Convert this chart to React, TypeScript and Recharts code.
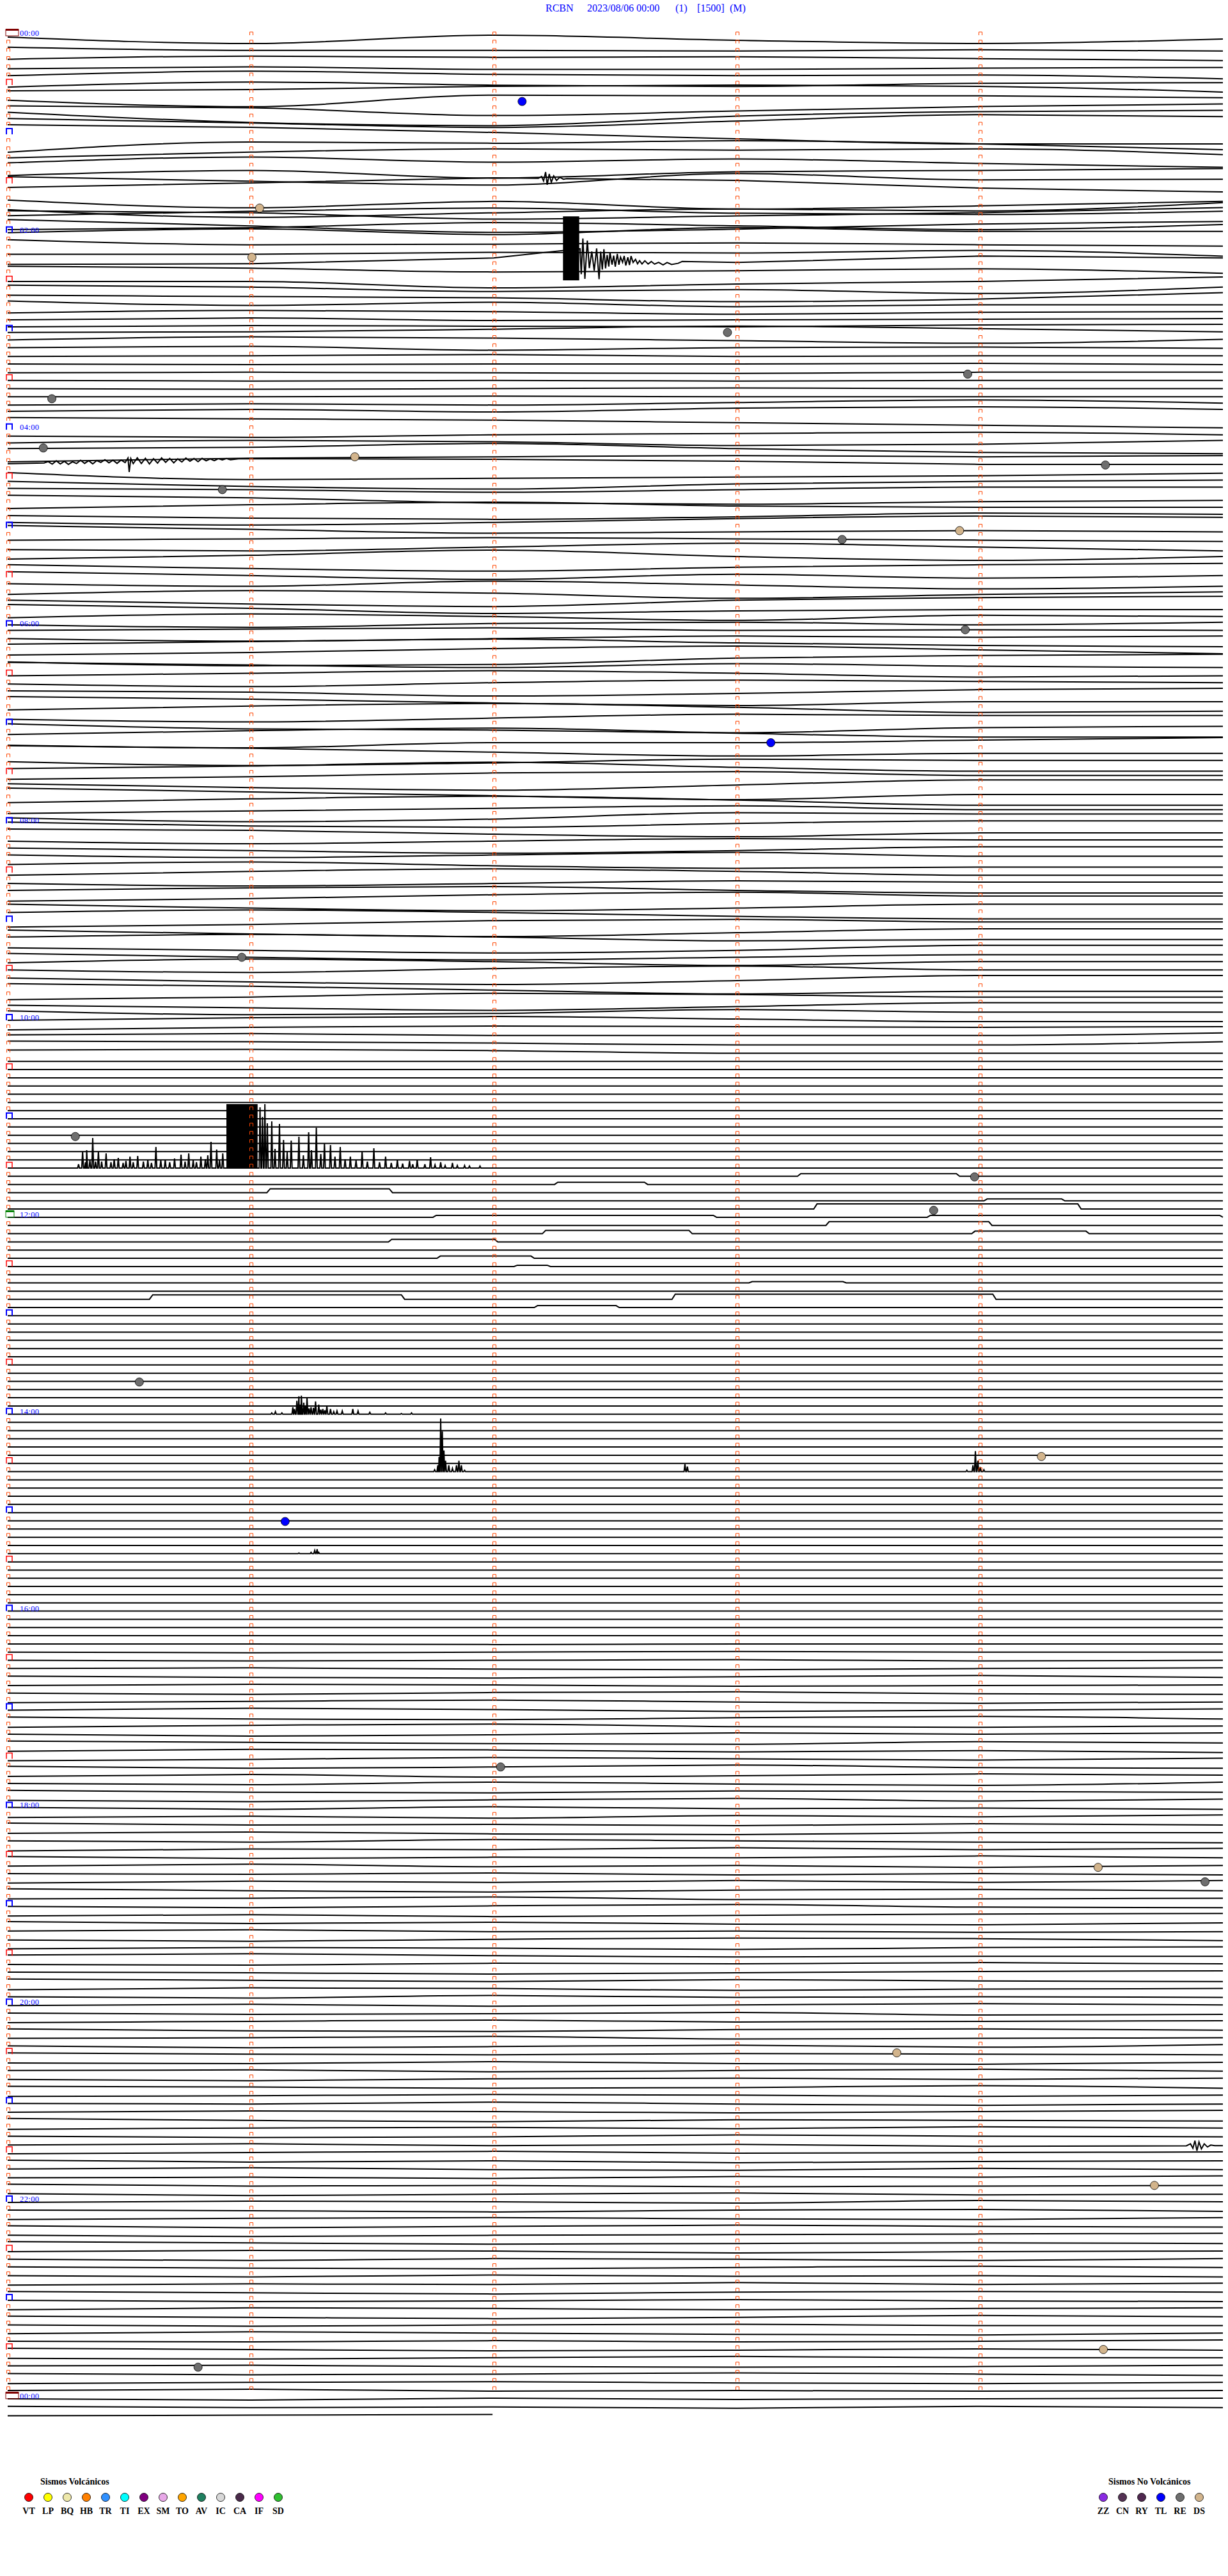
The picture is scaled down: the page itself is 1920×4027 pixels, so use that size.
import React from 'react';
import { ComposedChart, Line, Scatter, XAxis, YAxis, ReferenceArea } from 'recharts';

// ---------- geometry of the helicorder page ----------
const W = 1920;
const H = 4027;
const ROW_PX = 12.826; // vertical spacing of the 5-minute lines
const TOP_PX = 56; // baseline of the first line
const SEC_PX = 6.3333; // 380 px per minute
const LEFT_PX = 12;
const T0 = -LEFT_PX / SEC_PX;
const T1 = T0 + W / SEC_PX;
const R0 = -TOP_PX / ROW_PX;
const R1 = R0 + H / ROW_PX;
const ROWS = 291;
const LAST_ROW = 290;
const LAST_END = 119.7;

// ---------- title / labels ----------
const titleParts = ['RCBN', '2023/08/06 00:00', '(1)', '[1500]', '(M)'];
const titleX = [853, 918, 1056, 1090, 1141];
const hourLabels = ['00:00', '02:00', '04:00', '06:00', '08:00', '10:00', '12:00', '14:00', '16:00', '18:00', '20:00', '22:00', '00:00'];
const minuteTicks = [0, 60, 120, 180, 240];

// ---------- per-minute drift of the trace (px, + = down), one array per hour ----------
const h00 = [
  2, 12, -1, 7, 12, 5, 10, 10, 11, 9, 11, 6, 8, 7, 10, 13, 10, 14, 14, 12,
  11, 4, 9, 11, 10, 16, 8, 13, 15, 10, 9, 7, 2, 0, 2, 11, 21, 3, 4, 4,
  7, 10, 22, 15, 8, 4, 20, 25, 10, 3, 1, 8, 15, 5, -5, -2, 2, 10, 20, 28,
];
const h01 = [
  28, 12, 14, 10, 15, 24, 15, 10, 12, 10, 19, 10, 18, 13, 20, 26, 18, 30, 20, 18,
  15, 22, 28, 10, 20, 19, 12, 4, 8, 20, 26, 38, 28, 40, 35, 28, 40, 33, 27, 30,
  17, 20, 30, 25, 20, 12, 5, 0, 8, 10, 5, 15, 25, 20, 12, 8, 5, -3, 2, 8,
];
const h02 = [
  0, -6, 3, -8, -2, -2, 6, 5, 3, 6, 8, 8, 5, 6, 2, 11, 10, 1, 8, -2,
  1, 4, 10, 8, 5, 12, 12, 22, 16, 12, 5, 8, 15, 12, 18, 8, 10, 12, 18, 14,
  4, 11, 6, 13, 10, 10, 6, 8, 12, 9, 8, 5, 9, 8, 7, 6, 4, 5, 6, 3,
];
const h03 = [
  2, 1, -3, -8, -4, 1, -4, -2, 2, 6, 0, -2, 4, 0, -1, 1, 0, -2, 1, 0,
  0, 1, 0, 0, -1, 1, 0, 1, 2, 0, 0, 1, 0, 1, 0, 0, 1, 0, -1, 0,
  0, 0, -1, 0, 0, 0, -2, 0, -4, -8, -3, -6, -2, -8, -10, -6, -4, -2, 2, 6,
];
const h04 = [
  10, 12, 8, 6, 4, 8, 4, 6, 12, 10, 4, 2, -4, 4, 10, 12, 6, 4, 2, 4,
  2, -6, -5, -2, 3, 3, 14, 12, 10, 8, 4, 12, 16, 8, 4, 2, 4, 8, 4, 0,
  0, 4, 12, 14, 10, 8, 2, -2, 4, 6, 6, 10, 12, 8, 2, 4, 8, 4, -2, -6,
];
const h05 = [
  -4, 2, 8, 6, 4, 6, 4, 2, 4, 6, 8, 10, 4, -2, 4, 10, 4, -4, 6, 12,
  6, 12, 16, 10, 6, 4, 10, 16, 8, 14, 10, 14, 6, 12, 18, 14, 8, 12, 20, 14,
  10, 16, 20, 10, 6, 4, 10, 18, 14, 12, 12, 6, 10, 16, 8, 10, 14, 8, 6, 10,
];
const h06 = [
  6, 4, 2, 6, 5, 6, 10, 6, 2, 4, 2, -2, -6, 0, 4, 6, 2, -4, -8, -2,
  4, 10, 8, -2, -6, -8, -4, 0, -6, -2, 0, -4, -8, -4, 2, 0, 4, -2, -6, -4,
  -2, 0, 6, 2, -4, -6, -2, 4, 8, 2, 2, -4, -8, -2, 6, 4, 8, 2, -4, -2,
];
const h07 = [
  -2, 6, 8, 12, 4, 2, -4, -8, 0, 6, 6, 10, 2, 2, -2, -6, -2, 4, 10, 6,
  6, 12, 8, 2, 4, 4, 0, -6, 2, 8, 8, 4, -2, -4, 2, 2, 8, 12, 4, -4,
  -4, 2, 8, 14, 6, 6, 0, -4, 2, 10, 10, 6, 2, -2, 4, 4, 10, 6, -4, -2,
];
const h08 = [
  -2, 4, 6, 0, -4, -4, -2, 4, 8, 2, 2, 6, 2, -2, 0, 0, 4, 8, 4, -2,
  -2, 2, -2, -6, 0, 0, -4, 2, 6, 4, 4, -2, -6, -2, 4, 4, 8, 4, 0, 2,
  2, -2, -4, 2, 6, 6, 2, -4, -8, -2, -2, 4, 8, 4, -2, -2, -6, -2, 4, 8,
];
const h09 = [
  8, 4, -2, -4, 0, 0, 6, 10, 4, -2, -2, -6, -2, 4, 2, 2, 6, 10, 6, -2,
  -2, 4, 8, 4, 0, 0, -6, -2, 4, -2, -2, 2, -4, -8, -2, -2, 4, 8, 2, -6,
  -6, -2, 4, 10, 6, 6, 2, -4, -2, 2, 2, 6, 10, 4, -2, -2, 4, 2, -4, 0,
];
const h10 = [
  0, -4, -6, -2, 2, 2, -2, -4, -3, -2, -3, -5, -2, -2, -2, -6, -5, -3, 0, 0,
  -5, -6, -4, 0, 0, 0, 0, 0, 0, 0, 0, 0, 0, 0, 0, 0, 0, 0, 0, 0,
  0, 0, 0, 0, 0, 0, 0, 0, 0, 0, 0, 0, 0, 0, 0, 0, 0, 0, 0, 0,
];
const h11 = [
  0, 0, 0, 0, 0, 0, 0, 0, 0, 0, 0, 0, 0, 0, 0, 0, 0, 0, 0, 0,
  0, 0, 0, 0, 0, 0, 0, 0, 0, 0, 0, 0, 0, 0, 0, 0, 0, 0, 0, 0,
  0, 0, 0, 0, 0, 0, 0, 0, 0, 0, 0, 0, 0, 0, 0, 0, 0, 0, 0, 0,
];
const h12 = [
  0, 0, 0, 0, 0, 0, 0, 0, 0, 0, 0, 0, 0, 0, 0, 0, 0, 0, 0, 0,
  0, 0, 0, 0, 0, 0, 0, 0, 0, 0, 0, 0, 0, 0, 0, 0, 0, 0, 0, 0,
  0, 0, 0, 0, 0, 0, 0, 0, 0, 0, 0, 0, 0, 0, 0, 0, 0, 0, 0, 0,
];
const h13 = [
  0, 0, 0, 0, 0, 0, 0, 0, 0, 0, 0, 0, 0, 0, 0, 0, 0, 0, 0, 0,
  0, 0, 0, 0, 0, 0, 0, 0, 0, 0, 0, 0, 0, 0, 0, 0, 0, 0, 0, 0,
  0, 0, 0, 0, 0, 0, 0, 0, 0, 0, 0, 0, 0, 0, 0, 0, 0, 0, 0, 0,
];
const h14 = [
  0, 0, 0, 0, 0, 0, 0, 0, 0, 0, 0, 0, 0, 0, 0, 0, 0, 0, 0, 0,
  0, 0, 0, 0, 0, 0, 0, 0, 0, 0, 0, 0, 0, 0, 0, 0, 0, 0, 0, 0,
  0, 0, 0, 0, 0, 0, 0, 0, 0, 0, 0, 0, 0, 0, 0, 0, 0, 0, 0, 0,
];
const h15 = [
  0, 0, 0, 0, 0, 0, 0, 0, 0, 0, 0, 0, 0, 0, 0, 0, 0, 0, 0, 0,
  0, 0, 0, 0, 0, 0, 0, 0, 0, 0, 0, 0, 0, 0, 0, 0, 0, 0, 0, 0,
  0, 0, 0, 0, 0, 0, 0, 0, 0, 0, 0, 0, 0, 0, 0, 0, 0, 0, 0, 0,
];
const h16 = [
  0, 0, 0, 0, 0, 0, 0, 0, 0, 0, 0, 0, 0, 0, 0, 0, 0, 0, 0, 0,
  0, 0, 1, 0, 0, 0, 1, 0, -1, 0, 0, 1, 0, -1, 1, 0, -1, 1, 2, 0,
  -1, 1, 2, 0, -2, 1, -1, 0, 2, 1, 0, 2, -1, -2, 1, 2, 0, -2, 1, 3,
];
const h17 = [
  1, -2, 0, 3, 1, -1, 2, 3, 0, -2, 2, -1, -3, 1, 2, 0, 3, 1, -2, 0,
  -2, 0, 2, 3, -1, 1, -2, -1, 2, 0, 3, 1, -2, 0, 2, -1, 2, 0, -3, 1,
  2, -1, 3, 1, -2, 0, 2, -2, 1, 3, -2, 1, 2, -1, 0, 1, 3, 0, -2, 2,
];
const h18 = [
  -1, 2, -2, 1, 0, 2, 0, 3, -1, 1, -2, 1, 0, 2, -1, 1, -1, 2, 3, 0,
  0, 2, -2, 0, 2, 3, 0, 1, -2, 1, -1, 2, 0, 1, -2, 1, -2, 2, 0, 3,
  0, 1, -1, 2, 0, 2, -1, 1, -2, 1, -2, 1, 3, 0, -1, 1, 0, -2, 2, 1,
];
const h19 = [
  0, 2, -1, -3, 1, 2, 0, 3, 1, -1, -2, 1, -1, 2, 3, 0, -2, 1, 0, 2,
  1, 3, 0, -2, -1, 2, 0, 1, 3, 0, -1, -3, 0, 2, 1, 1, 2, -1, 0, -2,
  0, 1, 3, 1, -1, -2, 0, 2, -1, 1, 2, -1, 0, 3, 1, 0, 2, -2, 1, 0,
];
const h20 = [
  1, -1, 2, 0, -2, 0, 2, 1, -1, 3, 2, 0, -2, 1, 0, -1, 2, 3, 0, -1,
  1, 0, -2, 2, 1, 0, 3, 1, -1, 2, -2, 0, 1, -1, 0, 1, 2, -1, 2, 3,
  0, -1, 2, 0, -2, 1, 3, 0, -1, 1, -1, 0, 2, 1, -2, 2, 1, -1, 0, 2,
];
const h21 = [
  0, 1, -2, 1, 3, 1, -1, 0, 2, 0, -2, 1, 3, 0, 1, 2, 0, -1, 1, -2,
  0, 2, 1, -2, 0, 1, -1, 2, 0, 3, 2, 0, -2, 1, 0, -1, 2, 0, 3, 1,
  0, -2, 1, 2, -1, 1, 0, 2, -1, 0, -2, 1, 0, 2, 1, 0, 3, 1, -1, 2,
];
const h22 = [
  1, -1, 0, 2, -2, 0, 1, 3, 0, -1, 2, 0, -1, 1, 2, -1, 2, 0, -2, 0,
  1, 3, 1, 0, -1, -2, 0, 2, 1, 0, 1, -1, 0, 3, 1, 0, 2, -1, 0, 2,
  -1, 1, 2, 0, -2, 0, 2, -1, 1, 0, 2, 0, 1, -2, 1, -1, 1, 3, 0, -1,
];
const h23 = [
  0, 2, 1, -1, 1, 2, -1, 0, 2, 0, -1, 1, 3, 1, -2, 0, 2, 0, -1, 1,
  1, -2, 0, 2, 3, 0, 1, -1, 1, 0, -2, 0, 2, 1, -1, 1, 2, 0, -2, 0,
  0, -1, 1, 2, 1, -1, 1, 0, -2, 0, 2, 0, -1, 1, 2, 0, -2, 1, 0, 1,
];
const h24 = [0, 2, -1, 1, 0, -1, 1, 0, 2, -1, 1, 0, -1];

// ---------- short plateaus (row, start s, end s, height px up) ----------
const bumps: [number, number, number, number][] = [
  [139, 195, 235, 4], [140, 135, 158, 3.5], [141, 64, 95, 6], [142, 241, 261, 3],
  [143, 199, 265, 8], [144, 105, 175, 3], [144, 227, 300, 3], [145, 202, 243, 6],
  [146, 132, 169, 5], [146, 238, 267, 4], [147, 94, 121, 4], [149, 106, 130, 3.5],
  [150, 125, 134, 2], [152, 183, 207, 2], [154, 35, 98, 7], [154, 164, 244, 8],
  [155, 130, 151, 3],
];

// ---------- one-sided spikes (time s, height px) ----------
const tremor1130: [number, number][] = [
  [17.5, 6], [18.5, 26], [19.2, 9], [19.5, 28], [20.3, 12], [21, 47], [21.7, 10], [22.4, 26], [23.2, 10],
  [24.3, 23], [25.5, 9], [26.3, 14], [27.3, 16], [28.5, 8], [29.2, 11], [30.2, 18], [31, 9], [32.1, 19],
  [33.5, 10], [34.6, 13], [35.5, 8], [36.6, 33], [37.8, 12], [38.9, 13], [40, 9], [41.2, 15], [42.8, 21],
  [43.8, 10], [44.7, 23], [45.8, 12], [46.6, 9], [47.7, 18], [48.8, 14], [49.4, 20], [50.2, 41], [51.6, 29],
  [52.3, 12], [53.1, 23], [62.3, 95], [62.9, 80], [63.5, 100], [64.1, 70], [65.2, 73], [66, 30], [67.1, 69],
  [68.1, 44], [69, 25], [70, 43], [71.9, 49], [73, 20], [74.3, 56], [75, 28], [76.2, 63], [77.3, 22],
  [78.2, 39], [79.7, 36], [80.8, 18], [82.1, 33], [83.3, 14], [84.6, 18], [86, 12], [87.5, 26], [88.8, 10],
  [90.4, 31], [91.8, 9], [93.3, 18], [94.7, 8], [96.2, 13], [97.5, 7], [99.2, 11], [100, 6], [101.1, 13],
  [103, 6], [104.4, 17], [105.5, 5], [106.9, 9], [108, 4], [109.8, 8], [111, 4], [112.8, 4], [114, 3],
  [116.6, 3],
];
const burst1400: [number, number][] = [
  [65.2, 2], [66.1, 4], [67.7, 2], [70.4, 11], [70.8, 8], [71.4, 21], [71.9, 28], [72.2, 15], [72.5, 29],
  [73.1, 18], [73.5, 12], [73.9, 25], [74.4, 9], [74.9, 11], [75.5, 10], [76, 20], [76.8, 15], [77.3, 7],
  [77.8, 8], [78.3, 6], [78.8, 13], [79.7, 8], [80.5, 4], [81.3, 5], [82.6, 5], [85.2, 8], [86.5, 5],
  [89.4, 3], [93.3, 2], [97.2, 1], [99.7, 2],
];
const events1435: [number, number][] = [
  [105.4, 3], [106.2, 10], [106.5, 23], [106.9, 83], [107.3, 63], [107.7, 33], [108.1, 17], [108.9, 10],
  [109.8, 5], [110.8, 10], [111.4, 17], [112, 10], [112.8, 2], [167.2, 12], [167.8, 8], [236.8, 2],
  [238.3, 10], [238.9, 32], [239.5, 17], [240.1, 7], [241, 3],
];
const blips1525: [number, number][] = [[71.9, 1], [74.9, 2], [75.8, 5], [76.4, 7], [76.8, 2]];

// ---------- oscillating segments (time s, deviation px, + = down) ----------
const coda0215: [number, number][] = [
  [141.3, -17], [141.6, 23], [142, -33], [142.5, 30], [143.1, -30], [143.6, 13], [144.2, -13], [144.8, 17],
  [145.4, -18], [146, 30], [146.4, -13], [146.8, 15], [147.2, -17], [147.6, 13], [148, -8], [148.4, 10],
  [148.7, -12], [149.2, 7], [149.6, -7], [150, 10], [150.5, -10], [150.9, 7], [151.3, -5], [151.8, 3],
  [152.2, -7], [152.6, 8], [153.1, -5], [153.5, 7], [153.9, -7], [154.4, 3], [155, -2], [155.5, 5],
  [156, 0], [156.6, 5], [157.3, 0], [158.1, 5], [158.9, 1], [159.7, 5], [160.7, 2], [161.8, 6],
  [162.8, 2], [163.9, 5], [165.5, 3], [166.5, 0],
];
const quake0125: [number, number][] = [
  [131, 0], [131.8, -3], [132.3, 4], [132.8, -10], [133.2, 10], [133.7, -7], [134.2, 6], [134.8, -4],
  [135.5, 3], [136.3, -2], [137.2, 1], [138, 0],
];
const noise0420: [number, number][] = [
  [9, 0], [10, -2], [11, 2], [12, -3], [13, 2], [14, -2], [15, 3], [16, -1], [17, 2], [18, -3], [19, 2],
  [20, -2], [21, 3], [22, -2], [23, 1], [24, -3], [25, 2], [26, -2], [27, 3], [28, -2], [29, 2], [29.7, -5],
  [30, 17], [30.4, -4], [31, 4], [32, -5], [33, 4], [34, -4], [35, 5], [36, -3], [37, 4], [38, -4], [39, 3],
  [40, -3], [41, 4], [42, -2], [43, 3], [44, -3], [45, 2], [46, -2], [47, 3], [48, -2], [49, 2], [50, -1],
  [51, 2], [52, -1], [53, 1], [54, -1], [55, 1], [57, 0],
];
const quake2125: [number, number][] = [
  [291, 0], [292, -3], [292.6, 4], [293.1, -8], [293.6, 8], [294.1, -6], [294.7, 5], [295.4, -3],
  [296.2, 2], [297, -1], [298, 0],
];

// ---------- saturated blocks (row, start s, end s, top px, bottom px) ----------
const blocks: [number, number, number, number, number][] = [
  [27, 137.1, 141.1, -64, 36],
  [138, 54.0, 61.7, -100, 0],
];

// ---------- classified events (row, time s, offset px, type) ----------
const events: [number, number, number, string][] = [
  [8, 127, 0, 'TL'], [21, 62.2, 0, 'DS'], [27, 60.3, 0, 'DS'], [36, 177.7, 2, 'RE'],
  [41, 237, 3, 'RE'], [44, 10.9, 3, 'RE'], [50, 8.8, 3, 'RE'], [51, 85.7, 4, 'DS'],
  [55, 53, 4, 'RE'], [52, 271, 4, 'RE'], [61, 206, 5, 'RE'], [60, 235, 4, 'DS'],
  [72, 236.4, 5, 'RE'], [86, 188.4, 2, 'TL'], [112, 57.8, 4, 'RE'], [134, 16.7, 2, 'RE'],
  [139, 238.7, 1, 'RE'], [143, 228.6, 2, 'RE'], [164, 32.5, 1, 'RE'], [173, 255.2, 2, 'DS'],
  [181, 68.5, 1, 'TL'], [211, 121.7, 0, 'RE'], [223, 269.2, 3, 'DS'], [225, 295.6, 0, 'RE'],
  [246, 219.5, -2, 'DS'], [262, 283.1, 0, 'DS'], [282, 270.5, 0, 'DS'], [284, 47, 2, 'RE'],
];

// ---------- legends ----------
const volcanicCodes = ['VT', 'LP', 'BQ', 'HB', 'TR', 'TI', 'EX', 'SM', 'TO', 'AV', 'IC', 'CA', 'IF', 'SD'];
const volcanicColors = ['#ff0000', '#ffff00', '#eee8aa', '#ff8000', '#3090ff', '#00ffff', '#800080', '#e8a8e8', '#ffa500', '#208060', '#d8d8d8', '#4a2a4a', '#ff00ff', '#30c030'];
const otherCodes = ['ZZ', 'CN', 'RY', 'TL', 'RE', 'DS'];
const otherColors = ['#8a2be2', '#553355', '#502850', '#0000ff', '#6e6e6e', '#d2b48c'];

// ---------- build traces ----------
const drift: number[] = ([] as number[]).concat(h00, h01, h02, h03, h04, h05, h06, h07, h08, h09, h10, h11, h12, h13, h14, h15, h16, h17, h18, h19, h20, h21, h22, h23, h24);

type Overlay = { row: number; pts: [number, number][] };
const overlays: Overlay[] = [];
bumps.forEach(([row, a, b, h]) => overlays.push({ row, pts: [[a, 0], [a + 0.8, -h], [b - 0.8, -h], [b, 0]] }));
const spikeSets: [number, [number, number][]][] = [[138, tremor1130], [168, burst1400], [175, events1435], [185, blips1525]];
spikeSets.forEach(([row, list]) => {
  const pts: [number, number][] = [];
  list.forEach(([t, h]) => { pts.push([t - 0.22, 0], [t, -h], [t + 0.22, 0]); });
  pts.sort((p, q) => p[0] - q[0]);
  overlays.push({ row, pts });
});
const wiggleSets: [number, [number, number][]][] = [[27, coda0215], [17, quake0125], [52, noise0420], [257, quake2125]];
wiggleSets.forEach(([row, pts]) => overlays.push({ row, pts }));

function knotTimes(r: number): number[] {
  return r === LAST_ROW ? [0, 60, LAST_END] : [0, 60, 120, 180, 240, 300];
}
function baseAt(r: number, t: number): number {
  const ts = knotTimes(r);
  for (let i = 0; i < ts.length - 1; i++) {
    if (t <= ts[i + 1]) {
      const a = drift[r * 5 + i];
      const b = drift[r * 5 + i + 1];
      return a + ((b - a) * (t - ts[i])) / (ts[i + 1] - ts[i]);
    }
  }
  return drift[r * 5 + ts.length - 1];
}

const traces = Array.from({ length: ROWS }, (_, r) => {
  const mine = overlays.filter((o) => o.row === r);
  const spans = mine.map((o) => [o.pts[0][0], o.pts[o.pts.length - 1][0]]);
  const pts: { t: number; off: number }[] = [];
  knotTimes(r).forEach((t, i) => {
    const inside = spans.some(([a, b]) => t > a && t < b);
    if (!inside) pts.push({ t, off: drift[r * 5 + i] });
  });
  mine.forEach((o) => o.pts.forEach(([t, d]) => pts.push({ t, off: baseAt(r, t) + d })));
  pts.sort((p, q) => p.t - q.t);
  return { data: pts.map((p) => ({ t: p.t, y: r + p.off / ROW_PX })), smooth: mine.length === 0 };
});

// ---------- markers ----------
const specialKind = (r: number) => (r % 144 === 0 ? (r === 144 ? 'noon' : 'day') : r % 12 === 0 ? 'hour' : r % 6 === 0 ? 'half' : '');
const smallMarks: { t: number; y: number }[] = [];
for (let r = 0; r < 288; r++) {
  minuteTicks.forEach((t) => {
    if (t === 0 && specialKind(r)) return;
    smallMarks.push({ t, y: r });
  });
}
const bigMarks: { t: number; y: number; kind: string }[] = [];
for (let r = 0; r <= 288; r += 6) bigMarks.push({ t: 0, y: r, kind: specialKind(r) });
const labelMarks = hourLabels.map((text, i) => ({ t: 0, y: i * 24, text }));
const eventMarks = events.map(([row, t, off, type]) => ({ t, y: row + off / ROW_PX, type }));
const typeColor: Record<string, string> = { TL: '#0000ff', RE: '#6e6e6e', DS: '#d2b48c' };

const ORANGE = '#ff4500';
const SmallMark = (p: any) => (
  <path d={`M${p.cx - 1.5},${p.cy - 1}V${p.cy - 6}H${p.cx + 3.5}V${p.cy - 1}`} stroke={ORANGE} strokeWidth={1} fill="none" />
);
const BigMark = (p: any) => {
  const { cx, cy } = p;
  const kind = p.payload.kind;
  if (kind === 'day' || kind === 'noon') {
    const c = kind === 'day' ? '#800000' : '#008000';
    const w = kind === 'day' ? 20 : 13;
    return (
      <g>
        <rect x={cx - 3} y={cy - 10} width={w} height={10} fill="none" stroke={c} strokeWidth={1} />
        <rect x={cx - 3} y={cy - 11} width={w} height={3} fill={c} />
      </g>
    );
  }
  const c = kind === 'hour' ? '#0000ff' : '#ff0000';
  return <path d={`M${cx - 2},${cy}V${cy - 9}H${cx + 7}V${cy}`} stroke={c} strokeWidth={kind === 'hour' ? 2 : 1.5} fill="none" />;
};
const LabelMark = (p: any) => (
  <text x={p.cx + 19} y={p.cy} fill="#0000ff" fontSize={12.5} fontFamily="'Liberation Serif', 'Times New Roman', serif" letterSpacing={0.4}>
    {p.payload.text}
  </text>
);
const EventMark = (p: any) => (
  <circle cx={p.cx} cy={p.cy} r={6.5} fill={typeColor[p.payload.type]} stroke="#000" strokeWidth={0.8} />
);

const serif = "'Liberation Serif', 'Times New Roman', serif";
const LEG_TITLE_Y = 3884;
const LEG_DOT_Y = 3904;
const LEG_TEXT_Y = 3930;

function Overlay() {
  return (
    <svg width={W} height={H} style={{ position: 'absolute', left: 0, top: 0, pointerEvents: 'none' }}>
      {titleParts.map((s, i) => (
        <text key={s} x={titleX[i]} y={18} fill="#0000ff" fontSize={16} fontFamily={serif}>{s}</text>
      ))}
      <text x={63} y={LEG_TITLE_Y} fontSize={14} fontWeight="bold" fontFamily={serif} fill="#000">Sismos Volcánicos</text>
      {volcanicCodes.map((c, i) => (
        <g key={c}>
          <circle cx={45 + 30 * i} cy={LEG_DOT_Y} r={6.5} fill={volcanicColors[i]} stroke="#000" strokeWidth={0.8} />
          <text x={45 + 30 * i} y={LEG_TEXT_Y} textAnchor="middle" fontSize={14} fontWeight="bold" fontFamily={serif} fill="#000">{c}</text>
        </g>
      ))}
      <text x={1733} y={LEG_TITLE_Y} fontSize={14} fontWeight="bold" fontFamily={serif} fill="#000">Sismos No Volcánicos</text>
      {otherCodes.map((c, i) => (
        <g key={c}>
          <circle cx={1725 + 30 * i} cy={LEG_DOT_Y} r={6.5} fill={otherColors[i]} stroke="#000" strokeWidth={0.8} />
          <text x={1725 + 30 * i} y={LEG_TEXT_Y} textAnchor="middle" fontSize={14} fontWeight="bold" fontFamily={serif} fill="#000">{c}</text>
        </g>
      ))}
    </svg>
  );
}

export default function App() {
  return (
    <div style={{ position: 'absolute', left: 0, top: 0, width: W, height: H, background: '#fff', overflow: 'hidden' }}>
      <ComposedChart width={W} height={H} margin={{ top: 0, right: 0, bottom: 0, left: 0 }}>
        <XAxis type="number" dataKey="t" domain={[T0, T1]} allowDataOverflow hide />
        <YAxis type="number" dataKey="y" domain={[R0, R1]} reversed allowDataOverflow hide />
        {blocks.map(([row, a, b, top, bottom], i) => (
          <ReferenceArea key={'b' + i} x1={a} x2={b} y1={row + top / ROW_PX} y2={row + bottom / ROW_PX} fill="#000" fillOpacity={1} stroke="none" ifOverflow="visible" />
        ))}
        <Scatter data={smallMarks} shape={SmallMark} isAnimationActive={false} />
        {traces.map((tr, r) => (
          <Line key={r} data={tr.data} dataKey="y" type={tr.smooth ? 'monotone' : 'linear'} stroke="#000" strokeWidth={2} dot={false} activeDot={false} isAnimationActive={false} />
        ))}
        <Scatter data={bigMarks} shape={BigMark} isAnimationActive={false} />
        <Scatter data={labelMarks} shape={LabelMark} isAnimationActive={false} />
        <Scatter data={eventMarks} shape={EventMark} isAnimationActive={false} />
      </ComposedChart>
      <Overlay />
    </div>
  );
}
